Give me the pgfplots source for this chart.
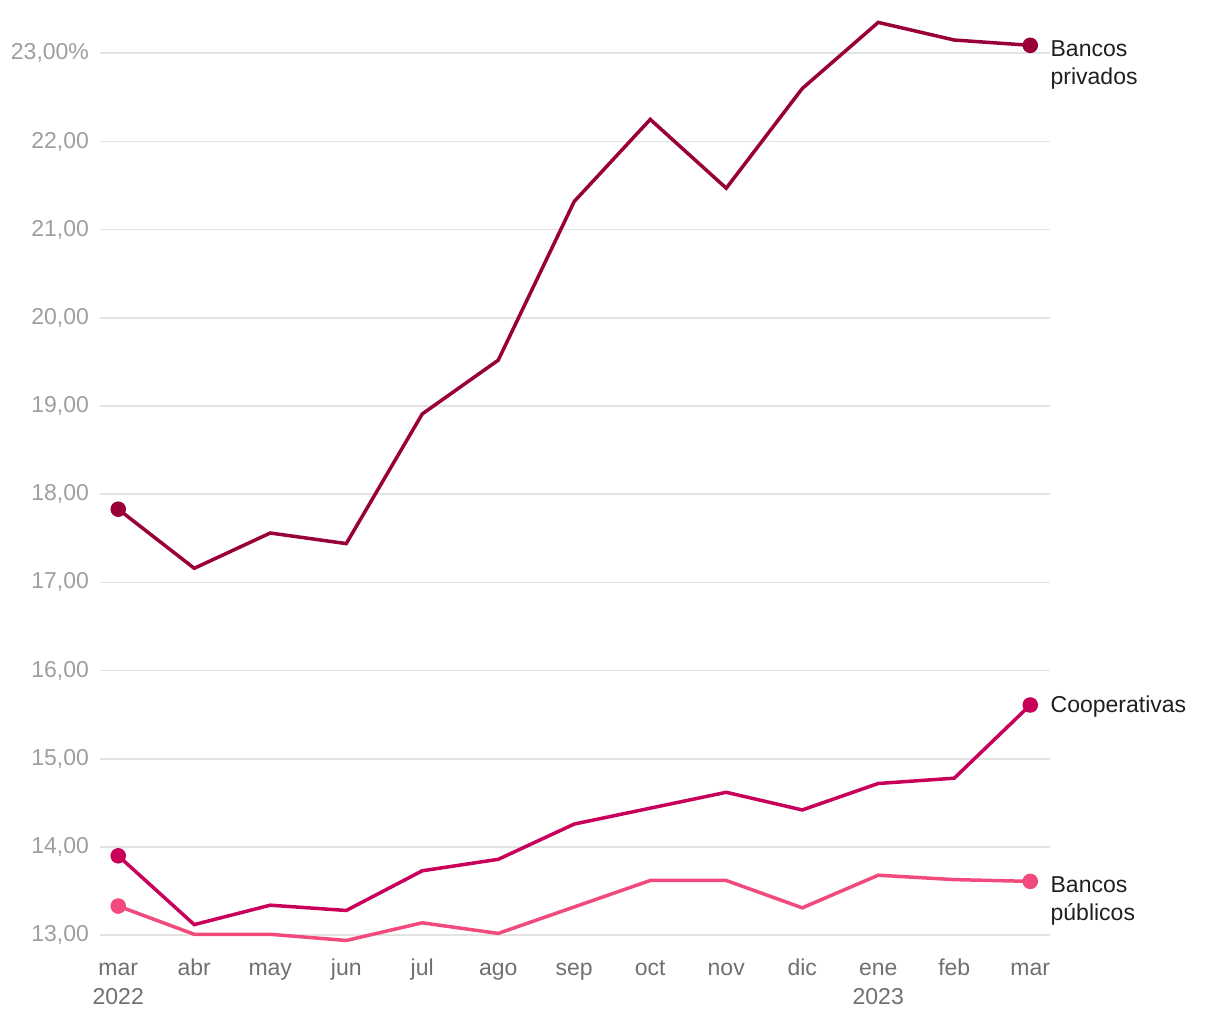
\documentclass[border=0pt]{standalone}
\usepackage{pgfplots}
\pgfplotsset{compat=1.18}
\usepackage{fontspec}
\setmainfont{Liberation Sans}
\definecolor{priv}{HTML}{99003A}
\definecolor{coop}{HTML}{C8005A}
\definecolor{publ}{HTML}{F04B7C}
\definecolor{gridc}{HTML}{E3E3E3}
\definecolor{ylab}{HTML}{9E9E9E}
\definecolor{xlab}{HTML}{707070}
\newcommand{\xs}{\rule{0pt}{9pt}}
\begin{document}
\begin{tikzpicture}
\begin{axis}[
  scale only axis,
  width=475pt, height=463pt,
  xmin=-0.24, xmax=12.26,
  ymin=12.9, ymax=23.4,
  axis line style={draw=none},
  major tick length=0pt,
  ymajorgrids, grid style={gridc, line width=0.8pt},
  ytick={13,14,15,16,17,18,19,20,21,22,23},
  yticklabels={{13,00},{14,00},{15,00},{16,00},{17,00},{18,00},{19,00},{20,00},{21,00},{22,00},{23,00\%}},
  xtick={0,1,2,3,4,5,6,7,8,9,10,11,12},
  xticklabels={{\xs mar\\2022},\xs abr,\xs may,\xs jun,\xs jul,\xs ago,\xs sep,\xs oct,\xs nov,\xs dic,{\xs ene\\2023},\xs feb,\xs mar},
  yticklabel style={font=\fontsize{11.5}{13}\selectfont, text=ylab, xshift=-2pt},
  xticklabel style={font=\fontsize{11.5}{14.5}\selectfont, text=xlab, align=center, anchor=north, yshift=-3pt},
  clip=false,
]
\addplot[priv, line width=1.75pt, mark=*, mark size=3pt, mark indices={1,13}] coordinates {
(0,17.83) (1,17.16) (2,17.56) (3,17.44) (4,18.91) (5,19.52) (6,21.32) (7,22.25) (8,21.47) (9,22.60) (10,23.35) (11,23.15) (12,23.09)};
\addplot[coop, line width=1.75pt, mark=*, mark size=3pt, mark indices={1,13}] coordinates {
(0,13.90) (1,13.12) (2,13.34) (3,13.28) (4,13.73) (5,13.86) (6,14.26) (7,14.44) (8,14.62) (9,14.42) (10,14.72) (11,14.78) (12,15.61)};
\addplot[publ, line width=1.75pt, mark=*, mark size=3pt, mark indices={1,13}] coordinates {
(0,13.33) (1,13.01) (2,13.01) (3,12.94) (4,13.14) (5,13.02) (6,13.32) (7,13.62) (8,13.62) (9,13.31) (10,13.68) (11,13.63) (12,13.61)};
\node[anchor=north west, inner sep=0pt, align=left, xshift=10pt, yshift=2.5pt, font=\fontsize{11.5}{14}\selectfont, text=black!88] at (axis cs:12,23.09) {Bancos\\privados};
\node[anchor=west, inner sep=0pt, xshift=10pt, yshift=-1pt, font=\fontsize{11.5}{14}\selectfont, text=black!88] at (axis cs:12,15.61) {Cooperativas};
\node[anchor=north west, inner sep=0pt, align=left, xshift=10pt, yshift=2.5pt, font=\fontsize{11.5}{14}\selectfont, text=black!88] at (axis cs:12,13.61) {Bancos\\públicos};
\end{axis}
\useasboundingbox (-50pt,-38pt) rectangle (560pt,472pt);
\end{tikzpicture}
\end{document}
